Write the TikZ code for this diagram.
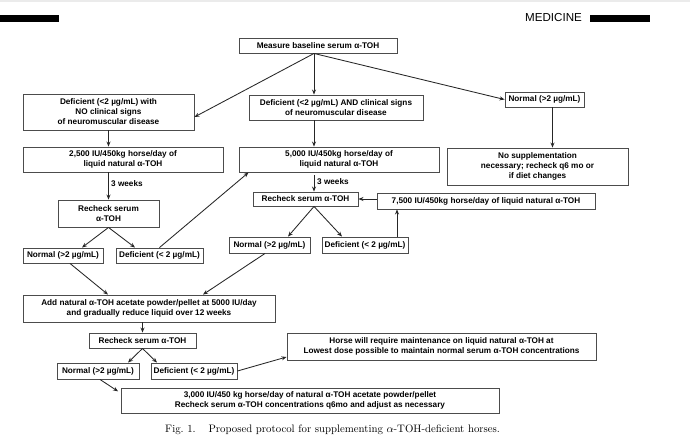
\documentclass[tikz,border=0pt]{standalone}
\usepackage{fontspec}
\newfontfamily\arial{Liberation Sans}
\usetikzlibrary{arrows.meta}
\tikzset{
  box/.style={draw=black!70, line width=0.9pt, fill=white, inner sep=0pt, align=center,
    font=\arial\bfseries\fontsize{8.2}{10}\selectfont},
  arr/.style={-{Stealth[length=5pt,width=4pt]}, line width=0.85pt, draw=black!85},
  lbl/.style={font=\arial\bfseries\fontsize{8.2}{10}\selectfont, inner sep=0pt, anchor=west},
}
\begin{document}
\begin{tikzpicture}[x=1pt,y=-1pt]
\useasboundingbox (0,0) rectangle (690,445);
\fill[white] (0,0) rectangle (690,445);
\fill[black!8] (0,0) rectangle (690,2);
% header
\fill[black] (0,14.5) rectangle (59,21.5);
\fill[black] (590,14.5) rectangle (650,21.5);
\node[font=\arial\fontsize{11.6}{13}\selectfont, inner sep=0pt, anchor=west] (med) at (525,18) {MEDICINE};

% nodes
\node[box, minimum width=158, minimum height=15] (meas) at (318,45.5) {Measure baseline serum α-TOH};
\node[box, minimum width=171, minimum height=36] (defno) at (108.5,112) {Deficient (<2 µg/mL) with\\NO clinical signs\\of neuromuscular disease};
\node[box, minimum width=174, minimum height=25] (defand) at (336,107.5) {Deficient (<2 µg/mL) AND clinical signs\\of neuromuscular disease};
\node[box, minimum width=79, minimum height=15] (normtop) at (544.5,99.5) {Normal (>2 µg/mL)};
\node[box, minimum width=200, minimum height=25] (d2500) at (123,159.5) {2,500 IU/450kg horse/day of\\liquid natural α-TOH};
\node[box, minimum width=200, minimum height=25] (d5000) at (339,159.5) {5,000 IU/450kg horse/day of\\liquid natural α-TOH};
\node[box, minimum width=181, minimum height=37] (nosupp) at (537.5,166.5) {No supplementation\\necessary; recheck q6 mo or\\if diet changes};
\node[box, minimum width=101, minimum height=27] (recL) at (108.5,213.5) {Recheck serum\\α-TOH};
\node[box, minimum width=105, minimum height=14] (recM) at (305.5,199) {Recheck serum α-TOH};
\node[box, minimum width=218, minimum height=16] (d7500) at (486,201) {7,500 IU/450kg horse/day of liquid natural α-TOH};
\node[box, minimum width=80, minimum height=15] (normL) at (63,255.5) {Normal (>2 µg/mL)};
\node[box, minimum width=87, minimum height=15] (defL) at (159.5,255.5) {Deficient (< 2 µg/mL)};
\node[box, minimum width=81, minimum height=16] (normM) at (269.5,245) {Normal (>2 µg/mL)};
\node[box, minimum width=86, minimum height=16] (defM) at (365,245) {Deficient (< 2 µg/mL)};
\node[box, minimum width=252, minimum height=27] (add) at (149,308.5) {Add natural α-TOH acetate powder/pellet at 5000 IU/day\\and gradually reduce liquid over 12 weeks};
\node[box, minimum width=107, minimum height=15] (recB) at (142.5,340.5) {Recheck serum α-TOH};
\node[box, minimum width=82, minimum height=16] (normB) at (98,371) {Normal (>2 µg/mL)};
\node[box, minimum width=86, minimum height=16] (defB) at (194,371) {Deficient (< 2 µg/mL)};
\node[box, minimum width=309, minimum height=27] (horse) at (441.5,346.5) {Horse will require maintenance on liquid natural α-TOH at\\Lowest dose possible to maintain normal serum α-TOH concentrations};
\node[box, minimum width=378, minimum height=25] (d3000) at (310,400.5) {3,000 IU/450 kg horse/day of natural α-TOH acetate powder/pellet\\Recheck serum α-TOH concentrations q6mo and adjust as necessary};

% labels
\node[lbl] (w1) at (111,184) {3 weeks};
\node[lbl] (w2) at (317,181.5) {3 weeks};

% caption
\node[font=\fontsize{10.8}{12}\selectfont, inner sep=0pt, anchor=west] (cap) at (165,430) {Fig.~1.\hspace{1.2em}Proposed protocol for supplementing $\alpha$-TOH-deficient horses.};

% connectors
\coordinate (mo) at ([xshift=-4pt]meas.south);
\draw[arr] (mo) -- ([yshift=-5pt]defno.east);
\draw[arr] (mo) -- (mo |- defand.north);
\draw[arr] (mo) -- (normtop.west);
\draw[arr] (defno.south) -- (defno.south |- d2500.north);
\draw[arr] (mo |- defand.south) -- (mo |- d5000.north);
\draw[arr] ([xshift=8pt]normtop.south) -- ([xshift=8pt]normtop.south |- nosupp.north);
\draw[arr] (recL.north |- d2500.south) -- (recL.north);
\draw[arr] ([yshift=-3pt]mo |- d5000.south) -- (mo |- recM.north);
\draw[arr] (recL.south) -- ([xshift=19pt]normL.north);
\draw[arr] (recL.south) -- ([xshift=-24.5pt]defL.north);
\draw[arr] (mo |- recM.south) -- ([xshift=18.5pt]normM.north);
\draw[arr] (mo |- recM.south) -- ([xshift=-23pt]defM.north);
\draw[arr] (defL.north) -- ([xshift=10pt]d5000.south west);
\draw[arr] ([xshift=32pt]defM.north) -- ([xshift=32pt]defM.north |- d7500.south);
\draw[arr] (d7500.west |- recM.east) -- (recM.east);
\draw[arr] ([xshift=7pt]normL.south) -- ([xshift=-41pt]add.north);
\draw[arr] ([xshift=-4.5pt]normM.south) -- ([xshift=54pt]add.north);
\draw[arr] (recB.north |- add.south) -- (recB.north);
\draw[arr] (recB.south) -- ([xshift=30pt]normB.north);
\draw[arr] (recB.south) -- ([xshift=-37pt]defB.north);
\draw[arr] (defB.east) -- ([yshift=-10.5pt]horse.west);
\draw[arr, shorten >=3pt] ([xshift=2pt]normB.south) -- ([yshift=7.5pt]d3000.west);
\end{tikzpicture}
\end{document}
